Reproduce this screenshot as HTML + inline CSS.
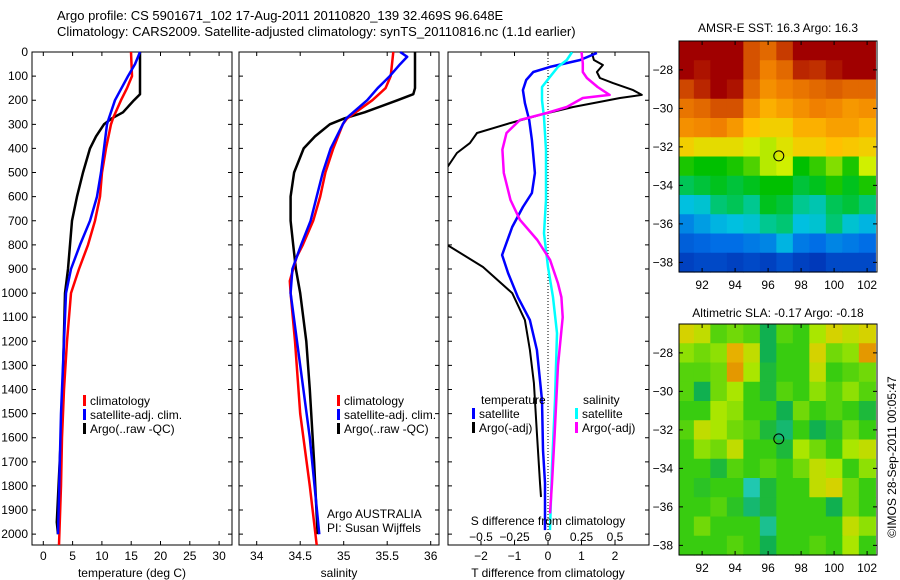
<!DOCTYPE html>
<html><head><meta charset="utf-8"><style>
html,body{margin:0;padding:0;background:#fff;}
svg{display:block;font-family:"Liberation Sans",sans-serif;}
text{font-size:12px;fill:#000;}
</style></head><body>
<svg id="fig" width="900" height="580" viewBox="0 0 900 580">
<text x="57" y="20" style="font-size:13px">Argo profile: CS 5901671_102 17-Aug-2011 20110820_139 32.469S 96.648E</text>
<text x="57" y="36" style="font-size:13px">Climatology: CARS2009. Satellite-adjusted climatology: synTS_20110816.nc (1.1d earlier)</text>
<g id="g"></g>
</svg>
<script>
// ---------- data ----------
const depthTicks = [0,100,200,300,400,500,600,700,800,900,1000,1100,1200,1300,1400,1500,1600,1700,1800,1900,2000];
const tempTicks = [0,5,10,15,20,25,30];
const salTicks = [34,34.5,35,35.5,36];
const tdiffTicks = [-2,-1,0,1,2];
const sdiffTicks = [-0.5,-0.25,0,0.25,0.5];

const tArgoDepth = [0,175,200,250,275,300,350,400,500,600,700,800,900,1000,1500,1950,2000];
const tArgo      = [16.5,16.5,15.48,13.6,11.72,10.36,8.99,7.97,6.77,5.75,4.9,4.56,4.21,3.7,3.19,2.3,2.51];
const tClimDepth = [0,100,150,200,275,300,400,500,600,700,800,900,1000,1200,1400,1600,1800,2045];
const tClim      = [14.96,15.14,14.28,13.26,11.89,11.55,10.7,10.02,9.67,8.82,7.63,6.09,4.73,4.04,3.53,3.19,3.02,2.68];
const tSatDepth  = [0,50,100,200,275,300,400,500,600,700,800,900,1000,1200,1500,2000];
const tSat       = [16.5,15.64,14.45,12.24,11.2,10.87,10.36,9.85,9.16,7.97,6.26,4.73,3.87,3.53,3.02,2.51];

const sArgoDepth = [0,150,175,200,250,275,300,350,400,500,600,700,800,900,1000,1200,1400,1700,2000];
const sArgo      = [35.82,35.82,35.8,35.62,35.24,35.01,34.84,34.67,34.54,34.43,34.39,34.39,34.42,34.45,34.5,34.57,34.61,34.66,34.7];
const sClimDepth = [0,100,150,200,275,300,400,500,600,700,800,850,900,950,1000,1200,1500,1800,2045];
const sClim      = [35.57,35.54,35.48,35.33,35.04,34.99,34.88,34.79,34.73,34.65,34.53,34.46,34.42,34.38,34.39,34.44,34.5,34.61,34.69];
const sSatDepth  = [0,20,50,100,150,200,275,300,400,500,600,700,800,900,1000,1300,1600,2000];
const sSat       = [35.65,35.73,35.65,35.53,35.39,35.27,35.03,34.99,34.85,34.76,34.69,34.62,34.51,34.41,34.39,34.5,34.61,34.72];

const dTArgoDepth = [4,33,54,83,108,129,158,178,191,207,228,261,295,336,378,419,477,550,700,801,892,1000,1112,1236,1373,1581,1788,1846];
const dTArgo      = [1.31,1.37,1.64,1.46,1.55,1.94,2.54,2.8,2.15,1.55,0.75,-0.24,-1.13,-2.12,-2.33,-2.72,-3.0,-3.6,-3.6,-3.0,-1.94,-1.07,-0.69,-0.54,-0.42,-0.33,-0.24,-0.21];
const dTSatDepth  = [4,33,62,83,116,158,212,282,365,502,585,643,726,842,917,1017,1112,1236,1444,1651,1788,1983];
const dTSat       = [1.46,0.96,0.06,-0.44,-0.65,-0.75,-0.69,-0.56,-0.48,-0.39,-0.48,-0.75,-1.07,-1.37,-1.19,-0.9,-0.54,-0.33,-0.18,-0.15,-0.09,-0.09];
const dSSatDepth  = [0,33,62,103,145,200,270,407,614,752,892,1017,1166,1444,1720,1983];
const dSSat       = [0.18,0.14,0.075,0.015,-0.045,-0.045,-0.03,-0.015,-0.015,-0.03,0,0.037,0.067,0.052,0.03,0.015];
const dSArgoDepth = [0,47,83,108,145,178,191,228,253,282,336,405,502,614,696,780,862,960,1017,1100,1300,1581,1788,1914];
const dSArgo      = [0.25,0.26,0.26,0.29,0.37,0.46,0.26,0.14,-0.01,-0.21,-0.31,-0.34,-0.33,-0.28,-0.21,-0.08,0.015,0.075,0.1,0.11,0.075,0.05,0.03,0.015];

const mapLonTicks = [92,94,96,98,100,102];
const mapLatTicks = [-28,-30,-32,-34,-36,-38];
const gridLons = [91,92,93,94,95,96,97,98,99,100,101,102];
const gridLats = [-27,-28,-29,-30,-31,-32,-33,-34,-35,-36,-37,-38];
const sstGrid = [
[19,19,19,19,18.2,18,18.4,19,19,19,19,19],
[19,18.8,19,19,18.2,17.8,18,18.6,18.5,18.8,19,19],
[18.3,18.6,19,18.8,18,17.6,17.8,17.9,18,18.1,18,18],
[17.9,18,18.2,18.2,17.6,17.2,17.4,17.6,17.8,17.7,17.5,17.6],
[17.6,17.7,17.8,17.5,17,16.8,16.8,17.2,17.2,17.4,17.4,17.2],
[16.8,16.6,16.6,16.6,16.4,16.2,16.5,16.8,16.8,17,16.9,16.8],
[15.6,15.5,15.5,15.6,15.8,16.2,16.3,15.5,15.7,16.0,15.6,16.3],
[15.2,15.3,15.4,15.3,15.4,15.5,15.5,15.3,15.4,15.6,15.4,15.6],
[14.5,14.6,15.1,15.2,15.0,15.4,15.3,15.0,14.8,15.2,15.3,15.1],
[14,14.2,14.4,14.5,14.6,15.0,15.1,14.5,14.6,15.1,14.6,14.4],
[13.6,13.7,13.8,13.8,13.9,14.0,14.4,13.9,13.8,14.0,13.9,13.8],
[13.2,13.3,13.3,13.2,13.3,13.2,13.4,13.2,13.1,13.3,13.3,13.3]];
const slaGrid = [
[0.6,0.5,0.1,0.2,0.1,-0.3,0.1,0.0,0.4,0.6,0.5,0.6],
[0.3,0.2,0.3,0.8,0.5,-0.3,0.0,0.0,0.6,0.2,0.3,0.9],
[0.1,0.1,0.2,0.9,0.4,-0.2,0.0,0.0,0.5,0.0,0.1,0.2],
[0.1,-0.3,0.2,0.4,0,-0.2,0.1,0.0,0.3,0.1,0.3,0.1],
[0.0,0.0,0.4,0.3,0.0,0.0,-0.3,0.2,0.0,0.1,0.0,-0.2],
[0.1,0.5,0.4,0.2,0.1,-0.2,-0.4,0.0,-0.3,-0.1,0.2,0.0],
[0.0,0.3,0.2,0.5,0.0,0.0,-0.2,0.4,0.2,0.0,0.4,0.5],
[0.0,0.0,-0.2,0.1,0.0,0.1,0.0,0.2,0.5,0.4,0.0,0.3],
[0.0,-0.1,0.0,0.0,-0.6,-0.2,0.0,0.0,0.5,0.6,0.2,0.0],
[0.0,0.0,0.1,-0.1,-0.4,-0.2,0.0,0.0,0.0,-0.3,0.2,0.0],
[0.0,0.2,0.0,0.0,0.0,-0.5,0.0,0.0,0.0,0.0,0.5,0.3],
[0.0,0.0,0.0,0.1,0.0,-0.3,0.0,0.0,0.1,0.0,0.4,0.0]];
const argoLon = 96.648, argoLat = -32.469;

// ---------- helpers ----------
const NS="http://www.w3.org/2000/svg";
const G=document.getElementById('g');
function el(tag,attrs,parent){const e=document.createElementNS(NS,tag);for(const k in attrs)e.setAttribute(k,attrs[k]);(parent||G).appendChild(e);return e;}
function txt(x,y,s,anchor,size){const t=el('text',{x:x,y:y,'text-anchor':anchor||'start'});if(size)t.style.fontSize=size+'px';t.textContent=s;return t;}
const PY0=52, PY1=545, DMAX=2045;
const yD=d=>PY0+(PY1-PY0)*d/DMAX;

function panel(name,x0,x1){
  const r=el('rect',{x:x0,y:PY0,width:x1-x0,height:PY1-PY0,fill:'none',stroke:'#000','stroke-width':1});
  
  
  depthTicks.forEach(d=>{
    const y=yD(d);
    const t=el('path',{d:`M${x0},${y}h4M${x1},${y}h-4`,stroke:'#000'});
    
    
  });
}
function line(name,xs,ds,fx,color,w,clip){
  const pts=xs.map((v,i)=>fx(v).toFixed(1)+','+yD(ds[i]).toFixed(1)).join(' ');
  const p=el('polyline',{points:pts,fill:'none',stroke:color,'stroke-width':w,'stroke-linejoin':'round'});
  if(clip)p.setAttribute('clip-path','url(#'+clip+')');
  
  
}

depthTicks.forEach(d=>{
  const t=txt(28,yD(d)+4,String(d),'end');
  
  
});

// ---- panel 1 temperature ----
const fT=v=>43.3+5.86*v;
panel('temperature-panel',32,232);
tempTicks.forEach(v=>{
  const x=fT(v);
  const tk=el('path',{d:`M${x},${PY1}v-4M${x},${PY0}v4`,stroke:'#000'});
  
  
  const t=txt(x,560,String(v),'middle');
  
  
});
line('temperature-argo-line',tArgo,tArgoDepth,fT,'#000',2.5);
line('temperature-climatology-line',tClim,tClimDepth,fT,'#f00',2.5);
line('temperature-satellite-line',tSat,tSatDepth,fT,'#00f',2.5);
let t=txt(132,577,'temperature (deg C)','middle');

function legend(name,x,y,items){
  items.forEach((it,i)=>{
    const b=el('rect',{x:x,y:y+i*14-10,width:3,height:11,fill:it[0]});
    
    
    const tt=txt(x+7,y+i*14,it[1]);
    
    
  });
}
legend('temperature-legend',83,405,[['#f00','climatology'],['#00f','satellite-adj. clim.'],['#000','Argo(..raw -QC)']]);

// ---- panel 2 salinity ----
const fS=v=>256.7+87*(v-34);
panel('salinity-panel',239,439);
salTicks.forEach(v=>{
  const x=fS(v);
  const tk=el('path',{d:`M${x},${PY1}v-4M${x},${PY0}v4`,stroke:'#000'});
  
  
  const t=txt(x,560,String(v),'middle');
  
  
});
line('salinity-argo-line',sArgo,sArgoDepth,fS,'#000',2.5);
line('salinity-climatology-line',sClim,sClimDepth,fS,'#f00',2.5);
line('salinity-satellite-line',sSat,sSatDepth,fS,'#00f',2.5);
t=txt(339,577,'salinity','middle');
legend('salinity-legend',337,405,[['#f00','climatology'],['#00f','satellite-adj. clim.'],['#000','Argo(..raw -QC)']]);
t=txt(327,518,'Argo AUSTRALIA');
t=txt(327,532,'PI: Susan Wijffels');

// ---- panel 3 differences ----
const fdT=v=>548+33.5*v;
const fdS=v=>548+134*v;
const defs=el('defs',{});
const cp=el('clipPath',{id:'clip3'},defs);
el('rect',{x:448,y:PY0,width:201,height:PY1-PY0},cp);
panel('difference-panel',448,649);
const z=el('line',{x1:548,y1:PY0,x2:548,y2:PY1,stroke:'#000','stroke-dasharray':'1,2'});

tdiffTicks.forEach(v=>{
  const x=fdT(v);
  const tk=el('path',{d:`M${x},${PY1}v-4M${x},${PY0}v4`,stroke:'#000'});
  
  
  const t=txt(x,560,String(v).replace('-','\u2212'),'middle');
  
  
});
sdiffTicks.forEach(v=>{
  const t=txt(fdS(v),541,String(v).replace('-','\u2212'),'middle');
  
  
});
line('t-diff-argo-line',dTArgo,dTArgoDepth,fdT,'#000',2,'clip3');
line('t-diff-satellite-line',dTSat,dTSatDepth,fdT,'#00f',2.5,'clip3');
line('s-diff-satellite-line',dSSat,dSSatDepth,fdS,'#0ff',2.5,'clip3');
line('s-diff-argo-line',dSArgo,dSArgoDepth,fdS,'#f0f',2.5,'clip3');
t=txt(481,404,'temperature');
t=txt(583,404,'salinity');
legend('t-diff-legend',472,418,[['#00f','satellite'],['#000','Argo(-adj)']]);
legend('s-diff-legend',575,418,[['#0ff','satellite'],['#f0f','Argo(-adj)']]);
t=txt(548,525,'S difference from climatology','middle');
t=txt(548,577,'T difference from climatology','middle');

// ---- maps ----
function lerpColor(stops,v){
  if(v<=stops[0][0])return stops[0][1];
  for(let i=1;i<stops.length;i++){
    if(v<=stops[i][0]){
      const a=stops[i-1],b=stops[i],f=(v-a[0])/(b[0]-a[0]);
      return a[1].map((x,k)=>Math.round(x+(b[1][k]-x)*f));
    }
  }
  return stops[stops.length-1][1];
}
const sstStops=[[13,[0,50,180]],[13.8,[0,110,230]],[14.5,[0,192,224]],[15.0,[0,200,144]],[15.5,[0,192,0]],[16.3,[208,240,0]],[17,[255,192,0]],[17.8,[240,128,0]],[18.5,[192,48,0]],[19,[160,0,0]]];
const slaStops=[[-0.6,[32,200,176]],[-0.3,[16,176,80]],[0,[56,204,16]],[0.4,[170,230,0]],[0.7,[235,200,0]],[1,[224,128,0]]];

function map(name,top,grid,stops,title,titleY){
  const x0=679,x1=877,bottom=top+231;
  const fx=lon=>x0+(lon-90.6)*(x1-x0)/12;
  const fy=lat=>top+(-26.5-lat)*(bottom-top)/12;
  const cw=(x1-x0)/12, ch=(bottom-top)/12;
  grid.forEach((row,i)=>row.forEach((v,j)=>{
    const c=lerpColor(stops,v);
    const r=el('rect',{x:(fx(gridLons[j])-cw/2).toFixed(2),y:(fy(gridLats[i])-ch/2).toFixed(2),width:(cw+0.6).toFixed(2),height:(ch+0.6).toFixed(2),fill:`rgb(${c[0]},${c[1]},${c[2]})`});
    
    
  }));
  const cl=el('rect',{x:x0-20,y:top-20,width:20,height:bottom-top+40,fill:'#fff'});
  const cr=el('rect',{x:x1,y:top-20,width:20,height:bottom-top+40,fill:'#fff'});
  const fr=el('rect',{x:x0,y:top,width:x1-x0,height:bottom-top,fill:'none',stroke:'#000'});
  
  mapLonTicks.forEach(l=>{
    const x=fx(l);
    const tk=el('path',{d:`M${x},${bottom}v-4M${x},${top}v4`,stroke:'#000'});
    
    const t=txt(x,bottom+17,String(l),'middle');
    
  });
  mapLatTicks.forEach(l=>{
    const y=fy(l);
    const tk=el('path',{d:`M${x0},${y}h4M${x1},${y}h-4`,stroke:'#000'});
    
    const t=txt(x0-6,y+4,String(l).replace('-','\u2212'),'end');
    
  });
  const c=el('circle',{cx:fx(argoLon),cy:fy(argoLat),r:5,fill:'none',stroke:'#000'});
  
  const tt=txt(778,titleY,title,'middle');
  
}
map('sst-map',41,sstGrid,sstStops,'AMSR-E SST: 16.3 Argo: 16.3',32);
map('sla-map',324,slaGrid,slaStops,'Altimetric SLA: -0.17 Argo: -0.18',317);

const cr=txt(0,0,'\u00A9IMOS 28-Sep-2011 00:05:47','middle');
cr.setAttribute('transform','translate(896,457) rotate(-90)');


</script>
</body></html>
